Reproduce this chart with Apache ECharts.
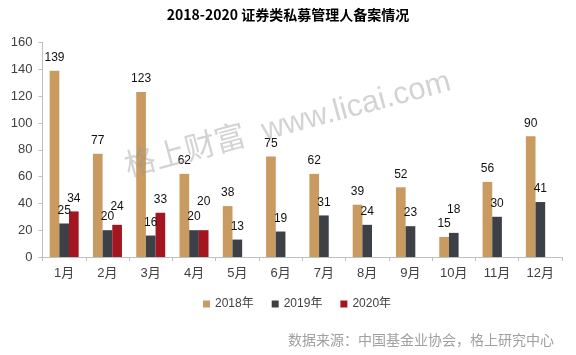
<!DOCTYPE html>
<html>
<head>
<meta charset="utf-8">
<script src="https://cdn.jsdelivr.net/npm/echarts@6/dist/echarts.min.js"></script>
<style>
  html, body { margin: 0; padding: 0; background: #fff; }
  #chart { width: 576px; height: 355px; }
</style>
</head>
<body>
<div id="chart"></div>
<script>
// 数据
var months = ['1月', '2月', '3月', '4月', '5月', '6月', '7月', '8月', '9月', '10月', '11月', '12月'];
var y2018 = [139, 77, 123, 62, 38, 75, 62, 39, 52, 15, 56, 90];
var y2019 = [25, 20, 16, 20, 13, 19, 31, 24, 23, 18, 30, 41];
var y2020 = [34, 24, 33, 20, null, null, null, null, null, null, null, null];
var yTicks = [0, 20, 40, 60, 80, 100, 120, 140, 160];

// 个别标签错开（Excel 原图的摆放）
var labelLift = {
  '2019年': { 9: 10 },
  '2020年': { 1: 5, 3: 15 }
};

var font = '"Liberation Sans", "Noto Sans CJK SC", sans-serif';

function makeData(name, values) {
  return values.map(function (v, i) {
    var lift = (labelLift[name] || {})[i];
    if (v == null || !lift) return v;
    return { value: v, label: { distance: 7 + lift } };
  });
}

function makeSeries(name, values, color) {
  return {
    name: name,
    type: 'bar',
    data: makeData(name, values),
    itemStyle: { color: color },
    barGap: 0,
    barCategoryGap: '33%',
    label: {
      show: true,
      position: 'top',
      distance: 7,
      color: '#111',
      fontSize: 12,
      fontFamily: font
    }
  };
}

var myChart = echarts.init(document.getElementById('chart'));
myChart.setOption({
  animation: false,
  title: {
    text: '2018-2020 证券类私募管理人备案情况',
    left: 'center',
    top: 3,
    textStyle: {
      fontSize: 14,
      fontWeight: 'bold',
      color: '#000',
      fontFamily: '"Noto Sans CJK SC", sans-serif'
    }
  },
  legend: {
    bottom: 40,
    left: 198,
    icon: 'rect',
    itemWidth: 7,
    itemHeight: 7,
    itemGap: 18,
    textStyle: { fontSize: 12, color: '#404040', fontFamily: font }
  },
  grid: { left: 42.5, right: 14, top: 42.5, bottom: 98 },
  xAxis: {
    type: 'category',
    data: months,
    axisLine: { lineStyle: { color: '#bfbfbf' } },
    axisTick: { show: true, length: 4, alignWithLabel: false, lineStyle: { color: '#bfbfbf' } },
    axisLabel: { color: '#404040', fontSize: 13, margin: 10, fontFamily: font }
  },
  yAxis: {
    type: 'value',
    min: yTicks[0],
    max: yTicks[yTicks.length - 1],
    interval: 20,
    axisLine: { show: true, lineStyle: { color: '#bfbfbf' } },
    axisTick: { show: true, length: 4, lineStyle: { color: '#bfbfbf' } },
    splitLine: { show: false },
    axisLabel: { color: '#404040', fontSize: 13, margin: 10, fontFamily: font }
  },
  graphic: [
    {
      type: 'text',
      x: 288,
      y: 125,
      rotation: 15 * Math.PI / 180,
      z: 100,
      silent: true,
      style: {
        text: '格上财富  www.licai.com',
        fill: 'rgba(150,150,150,0.42)',
        fontSize: 31,
        fontFamily: '"Liberation Sans", "Noto Sans CJK SC", sans-serif',
        textAlign: 'center',
        textVerticalAlign: 'middle'
      }
    },
    {
      type: 'text',
      right: 22,
      top: 333,
      silent: true,
      style: {
        text: '数据来源：中国基金业协会，格上研究中心',
        fill: '#a0a0a0',
        fontSize: 14,
        fontFamily: '"Noto Sans CJK SC", sans-serif'
      }
    }
  ],
  series: [
    makeSeries('2018年', y2018, '#C99B60'),
    makeSeries('2019年', y2019, '#3D4047'),
    makeSeries('2020年', y2020, '#A3161F')
  ]
});
</script>
</body>
</html>
